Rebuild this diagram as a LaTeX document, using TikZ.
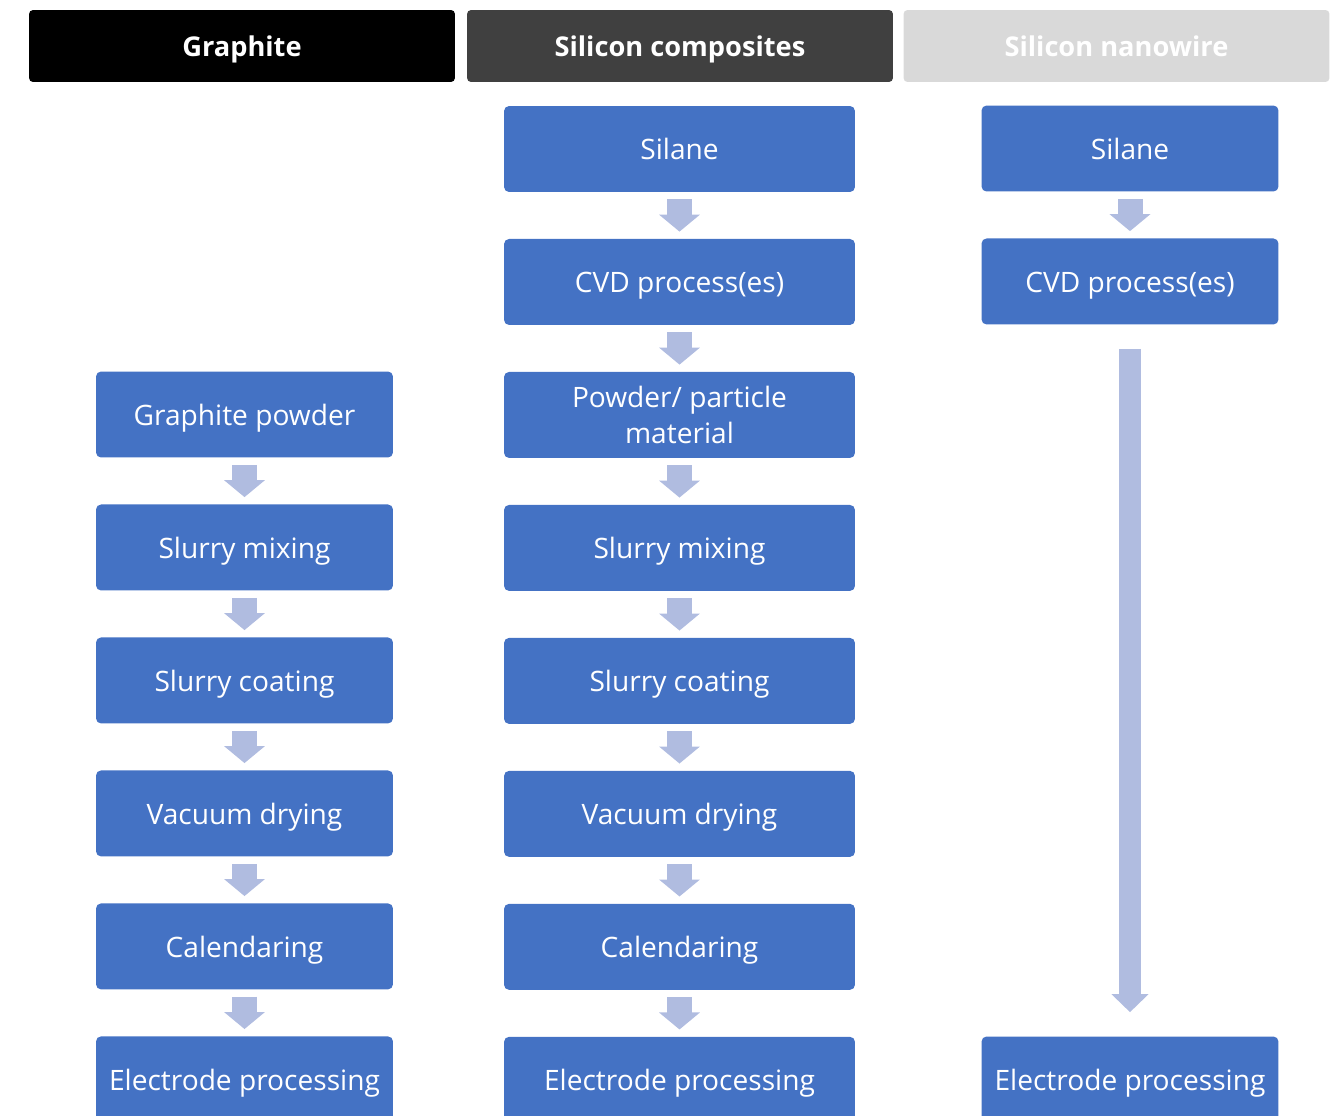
\documentclass[tikz,border=0pt]{standalone}
\usepackage{fontspec}
\setmainfont{Open Sans}
\usetikzlibrary{arrows.meta}
\usetikzlibrary{positioning}
\definecolor{boxblue}{RGB}{68,114,196}
\definecolor{arrowblue}{RGB}{176,188,224}
\definecolor{headgrey}{RGB}{64,64,64}
\definecolor{headlight}{RGB}{217,217,217}
\tikzstyle{head} = [
	rounded corners = 0.08cm,
	minimum width = 8.52cm,
	minimum height = 1.44cm,
	text = white,
	text height = 11.8pt,
	text depth = 0pt,
	font = \fontsize{15.5}{19}\selectfont\bfseries
]
\tikzstyle{stepbox} = [
	fill = boxblue,
	rounded corners = 0.1cm,
	minimum height = 1.72cm,
	text = white,
	text height = 12.2pt,
	text depth = 0pt,
	align = center,
	font = \fontsize{16}{20}\selectfont,
	node distance = 2.66cm
]
\tikzstyle{narrow} = [stepbox, minimum width = 5.94cm]
\tikzstyle{wide} = [stepbox, minimum width = 7.02cm]
\tikzstyle{flow} = [
	draw = arrowblue,
	line width = 0.5cm,
	shorten < = 0.14cm,
	shorten > = 0.14cm,
	-{Triangle[length=0.34cm, width=0.8cm]}
]
\tikzstyle{longflow} = [
	draw = arrowblue,
	line width = 0.44cm,
	shorten < = 0.48cm,
	shorten > = 0.48cm,
	-{Triangle[length=0.36cm, width=0.72cm]}
]

\begin{document}
\begin{tikzpicture}[x=0.02cm, y=-0.02cm]
	\useasboundingbox (0,0) rectangle (1340,1116);
	
	% headers
	\node[head, fill=black] (hgraph) at (242,46) {Graphite};
	\node[head, fill=headgrey] (hcomp) at (680,46) {Silicon composites};
	\node[head, fill=headlight] (hwire) at (1116.5,46) {Silicon nanowire};
	
	% graphite
	\node[narrow] (gpow) at (244.5,414.5) {Graphite powder};
	\node[narrow, below of=gpow] (gmix) {Slurry mixing};
	\node[narrow, below of=gmix] (gcoat) {Slurry coating};
	\node[narrow, below of=gcoat] (gdry) {Vacuum drying};
	\node[narrow, below of=gdry] (gcal) {Calendaring};
	\node[narrow, below of=gcal] (gelec) {Electrode processing};
	
	% silicon composites
	\node[wide] (csil) at (679.5,149) {Silane};
	\node[wide, below of=csil] (ccvd) {CVD process(es)};
	\node[wide, below of=ccvd, text height={}, text depth={}] (cpow) {Powder/ particle\\material};
	\node[wide, below of=cpow] (cmix) {Slurry mixing};
	\node[wide, below of=cmix] (ccoat) {Slurry coating};
	\node[wide, below of=ccoat] (cdry) {Vacuum drying};
	\node[wide, below of=cdry] (ccal) {Calendaring};
	\node[wide, below of=ccal] (celec) {Electrode processing};
	
	% silicon nanowire
	\node[narrow] (nsil) at (1130,148.5) {Silane};
	\node[narrow, below of=nsil] (ncvd) {CVD process(es)};
	\node[narrow] (nelec) at (1130,1079.5) {Electrode processing};
	
	\draw[flow] (gpow) -- (gmix);
	\draw[flow] (gmix) -- (gcoat);
	\draw[flow] (gcoat) -- (gdry);
	\draw[flow] (gdry) -- (gcal);
	\draw[flow] (gcal) -- (gelec);
	
	\draw[flow] (csil) -- (ccvd);
	\draw[flow] (ccvd) -- (cpow);
	\draw[flow] (cpow) -- (cmix);
	\draw[flow] (cmix) -- (ccoat);
	\draw[flow] (ccoat) -- (cdry);
	\draw[flow] (cdry) -- (ccal);
	\draw[flow] (ccal) -- (celec);
	
	\draw[flow] (nsil) -- (ncvd);
	\draw[longflow] (ncvd) -- (nelec);
	
\end{tikzpicture}
\end{document}
